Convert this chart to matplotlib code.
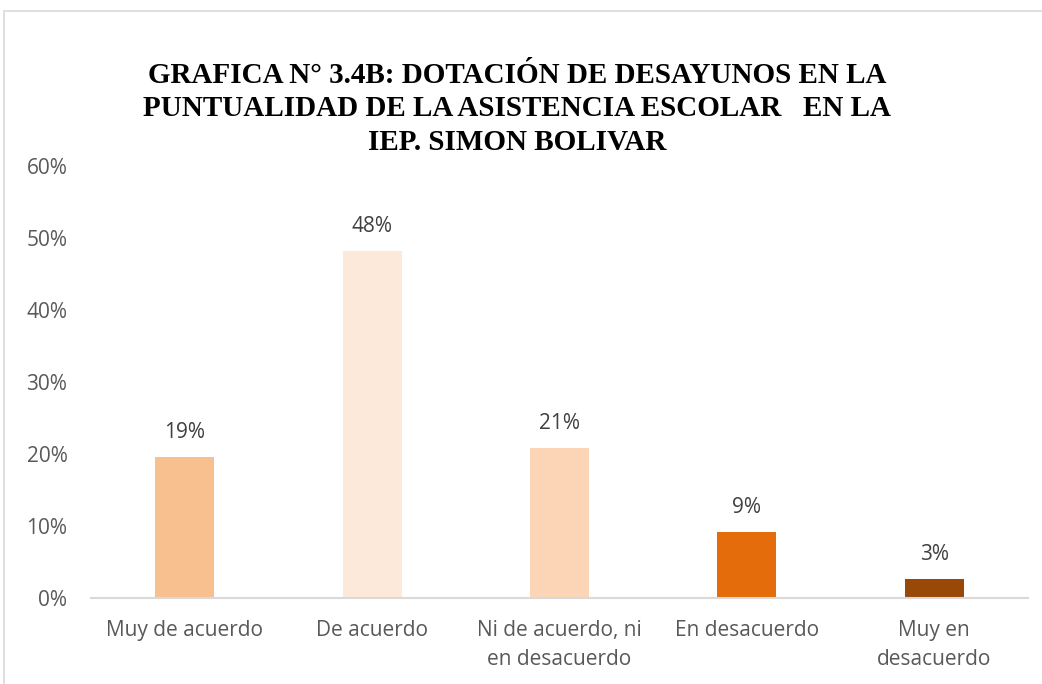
import matplotlib
matplotlib.use("Agg")
import matplotlib.pyplot as plt
from matplotlib.patches import Rectangle
from matplotlib.ticker import FuncFormatter, MultipleLocator

categories = ["Muy de acuerdo", "De acuerdo", "Ni de acuerdo, ni\nen desacuerdo",
              "En desacuerdo", "Muy en\ndesacuerdo"]
values = [0.196, 0.482, 0.208, 0.092, 0.026]
labels = ["19%", "48%", "21%", "9%", "3%"]
colors = ["#F9C08F", "#FDE9D9", "#FBD5B5", "#E46C0A", "#984807"]
title = "GRAFICA N° 3.4B: DOTACIÓN DE DESAYUNOS EN LA\nPUNTUALIDAD DE LA ASISTENCIA ESCOLAR   EN LA\nIEP. SIMON BOLIVAR"

W, H = 1042, 684
FONT = "Open Sans"
FS = 15
fig = plt.figure(figsize=(W / 100, H / 100), dpi=100)
fig.patches.append(Rectangle((4 / W, -0.1), 1.2, (H - 11) / H + 0.1, transform=fig.transFigure,
                             fill=False, edgecolor="#D9D9D9", linewidth=1.2))

ax = fig.add_axes([91 / W, (H - 598) / H, (1028 - 91) / W, (598 - 166) / H])
x = range(len(categories))
bars = ax.bar(x, values, width=0.315, color=colors)
ax.set_xlim(-0.5, len(categories) - 0.5)
ax.set_ylim(0, 0.6)
ax.yaxis.set_major_locator(MultipleLocator(0.1))
ax.yaxis.set_major_formatter(FuncFormatter(lambda v, p: f"{v*100:.0f}%"))
for s in ["top", "right", "left"]:
    ax.spines[s].set_visible(False)
ax.spines["bottom"].set_color("#D9D9D9")
ax.spines["bottom"].set_linewidth(1.5)
ax.tick_params(axis="both", length=0, labelsize=FS, labelcolor="#595959")
ax.tick_params(axis="y", pad=17)
ax.tick_params(axis="x", pad=16)
ax.set_xticks(list(x))
ax.set_xticklabels(categories, family=FONT, linespacing=1.5)
for t in ax.get_yticklabels():
    t.set_family(FONT)

for b, lab in zip(bars, labels):
    ax.annotate(lab, (b.get_x() + b.get_width() / 2, b.get_height()), xytext=(0, 10),
                textcoords="offset points", ha="center", va="bottom",
                fontsize=FS, color="#404040", family=FONT)

fig.text(517 / W, 1 - 62 / H, title, ha="center", va="top", family="Liberation Serif",
         fontweight="bold", fontsize=21, linespacing=1.3, color="black")

fig.savefig("out.png", dpi=100)
